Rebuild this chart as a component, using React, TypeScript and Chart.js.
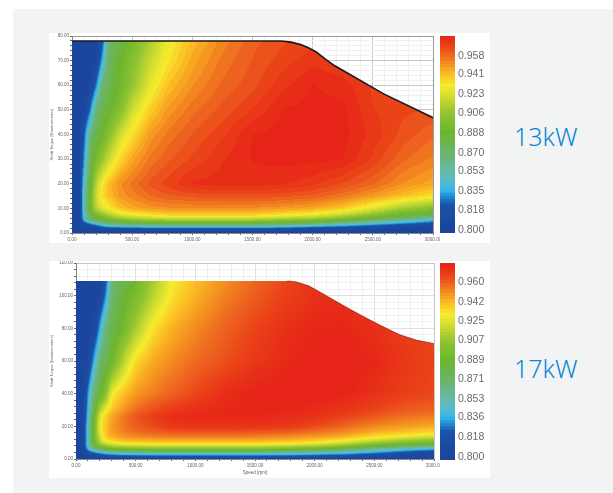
import React, { useEffect, useRef } from "react";
import { Chart, registerables } from "chart.js";
Chart.register(...registerables);

const speedNodes = [0, 60, 100, 150, 200, 250, 300, 400, 500, 650, 800, 1000, 1250, 1500, 1750, 2000, 2250, 2500, 2750, 3000];

const torque13 = [0, 1.5, 2.5, 3.5, 5, 7, 10, 15, 20, 30, 40, 50, 60, 70, 80];
const grid13 = [
  [.80,.80,.80,.80,.80,.80,.80,.80,.80,.80,.80,.80,.80,.80,.80,.80,.80,.80,.80,.80],
  [.80,.80,.80,.80,.80,.80,.80,.80,.80,.805,.805,.805,.805,.805,.805,.80,.80,.80,.80,.80],
  [.80,.80,.80,.80,.81,.825,.835,.84,.842,.845,.845,.845,.845,.845,.84,.83,.82,.81,.805,.80],
  [.80,.80,.805,.82,.835,.85,.86,.865,.87,.872,.875,.875,.875,.875,.87,.862,.85,.835,.82,.81],
  [.80,.80,.84,.865,.875,.88,.885,.895,.90,.905,.905,.905,.905,.905,.90,.895,.885,.87,.855,.835],
  [.80,.80,.845,.875,.89,.90,.91,.92,.925,.93,.935,.935,.935,.935,.93,.925,.915,.90,.885,.875],
  [.80,.80,.85,.89,.915,.925,.93,.94,.945,.948,.95,.95,.95,.95,.948,.945,.938,.925,.91,.90],
  [.80,.80,.85,.89,.92,.933,.94,.948,.952,.957,.96,.962,.963,.963,.962,.96,.955,.948,.94,.933],
  [.80,.80,.845,.885,.915,.93,.94,.95,.955,.962,.966,.972,.973,.973,.972,.969,.964,.958,.95,.945],
  [.80,.80,.83,.875,.895,.905,.918,.935,.945,.955,.96,.965,.971,.975,.976,.976,.975,.967,.958,.953],
  [.80,.80,.82,.865,.878,.888,.90,.92,.933,.948,.955,.961,.967,.975,.976,.976,.976,.97,.963,.958],
  [.80,.80,.80,.825,.868,.878,.885,.90,.92,.937,.948,.956,.962,.968,.975,.976,.976,.968,.965,.964],
  [.80,.80,.80,.80,.825,.868,.875,.89,.905,.926,.94,.95,.958,.963,.97,.975,.973,.967,.965,.964],
  [.80,.80,.80,.80,.80,.833,.872,.888,.90,.918,.932,.945,.955,.961,.966,.97,.968,.966,.965,.964],
  [.80,.80,.80,.80,.80,.81,.868,.88,.892,.91,.927,.94,.951,.959,.963,.966,.967,.967,.966,.965],
];
const envelopeSpeed13 = [0, 1736, 1820, 1900, 1960, 2030, 2100, 2180, 2256, 2590, 3000];
const envelopeTorque13 = [78, 78, 77.5, 76.5, 75.3, 73.5, 70.8, 68, 65.9, 56.5, 46.8];

const torque17 = [0, 1.5, 2.5, 4, 5.5, 7, 9, 12, 15, 20, 27, 29, 40, 60, 80, 100, 110];
const grid17 = [
  [.80,.80,.80,.80,.80,.80,.80,.80,.80,.80,.80,.80,.80,.80,.80,.80,.80,.80,.80,.80],
  [.80,.80,.80,.80,.80,.80,.80,.80,.80,.805,.805,.805,.805,.805,.805,.80,.80,.80,.80,.80],
  [.80,.80,.80,.80,.81,.822,.832,.836,.838,.838,.838,.838,.838,.838,.838,.835,.83,.82,.81,.803],
  [.80,.80,.81,.825,.84,.85,.855,.86,.862,.865,.865,.865,.865,.865,.86,.855,.845,.83,.815,.805],
  [.80,.80,.835,.855,.87,.875,.88,.885,.888,.89,.89,.89,.89,.89,.885,.875,.865,.85,.835,.825],
  [.80,.80,.85,.875,.885,.89,.90,.905,.907,.91,.91,.91,.91,.91,.905,.90,.89,.875,.86,.85],
  [.80,.80,.85,.885,.91,.92,.925,.93,.93,.932,.932,.932,.932,.932,.93,.925,.915,.90,.89,.885],
  [.80,.80,.85,.89,.92,.935,.94,.945,.946,.947,.948,.948,.948,.948,.946,.942,.935,.925,.915,.908],
  [.80,.80,.85,.89,.925,.94,.946,.952,.955,.957,.958,.958,.958,.957,.955,.952,.948,.94,.935,.93],
  [.80,.80,.85,.89,.93,.94,.948,.955,.96,.965,.97,.972,.972,.971,.97,.965,.958,.952,.948,.945],
  [.80,.80,.84,.885,.925,.937,.945,.955,.962,.968,.973,.975,.975,.975,.974,.972,.968,.962,.957,.955],
  [.80,.80,.838,.88,.918,.93,.94,.95,.958,.964,.97,.973,.975,.975,.975,.973,.97,.965,.96,.958],
  [.80,.80,.83,.87,.885,.90,.93,.94,.948,.954,.959,.965,.973,.976,.977,.977,.976,.972,.968,.965],
  [.80,.80,.80,.835,.868,.878,.888,.915,.935,.945,.951,.957,.963,.97,.974,.976,.977,.975,.97,.966],
  [.80,.80,.80,.80,.835,.868,.878,.892,.91,.933,.943,.951,.959,.966,.972,.975,.975,.972,.968,.965],
  [.80,.80,.80,.80,.80,.83,.87,.885,.895,.915,.932,.943,.953,.96,.967,.972,.973,.97,.967,.965],
  [.80,.80,.80,.80,.80,.815,.868,.878,.888,.91,.93,.94,.95,.958,.965,.97,.971,.97,.967,.965],
];
const envelopeSpeed17 = [0, 1772, 1850, 1950, 2050, 2156, 2300, 2440, 2600, 2714, 2850, 3000];
const envelopeTorque17 = [109, 109, 108.3, 106, 102, 97.5, 91.5, 86, 80, 76, 72.8, 70.6];

const speedTicks = [0, 500, 1000, 1500, 2000, 2500, 3000];
const legendTicks13 = [0.8, 0.818, 0.835, 0.853, 0.87, 0.888, 0.906, 0.923, 0.941, 0.958];
const legendTicks17 = [0.8, 0.818, 0.836, 0.853, 0.871, 0.889, 0.907, 0.925, 0.942, 0.96];

const colorValues = [.797, .822, .830, .835, .845, .855, .87, .888, .905, .92, .93, .94, .95, .958, .966, .976];
const colorHex = ["#1a459b", "#1b52a8", "#1f8fd8", "#35b5e8", "#5cbcc8", "#66b8a0", "#6cb468", "#6cb52e", "#90c432", "#d0dc30", "#f5ec2e", "#fbc024", "#f49020", "#ee6620", "#ea4318", "#e62418"];

const rgbStops = colorHex.map((h) => [1, 3, 5].map((i) => parseInt(h.slice(i, i + 2), 16)));
function colorOf(v: number) {
  const n = colorValues.length;
  if (v <= colorValues[0]) return `rgb(${rgbStops[0].join(",")})`;
  if (v >= colorValues[n - 1]) return `rgb(${rgbStops[n - 1].join(",")})`;
  let i = 0;
  while (v > colorValues[i + 1]) i++;
  const f = (v - colorValues[i]) / (colorValues[i + 1] - colorValues[i]);
  const c = rgbStops[i].map((a, k) => Math.round(a + (rgbStops[i + 1][k] - a) * f));
  return `rgb(${c.join(",")})`;
}
function locate(nodes: number[], v: number): [number, number] {
  let i = 0;
  while (i < nodes.length - 2 && v > nodes[i + 1]) i++;
  const f = Math.max(0, Math.min(1, (v - nodes[i]) / (nodes[i + 1] - nodes[i])));
  return [i, f];
}
function boxPass(src: Float32Array, w: number, h: number, r: number, horizontal: boolean) {
  const out = new Float32Array(src.length);
  for (let a = 0; a < (horizontal ? h : w); a++) {
    const len = horizontal ? w : h;
    for (let b = 0; b < len; b++) {
      let sum = 0;
      for (let k = -r; k <= r; k++) {
        const p = Math.max(0, Math.min(len - 1, b + k));
        sum += horizontal ? src[a * w + p] : src[p * w + a];
      }
      out[horizontal ? a * w + b : b * w + a] = sum / (2 * r + 1);
    }
  }
  return out;
}

const tickFont = { family: "'Liberation Sans'", size: 4.5 };

function makeMap(canvas: HTMLCanvasElement, o: any) {
  const heat = {
    id: "heat",
    beforeDatasetsDraw(chart: any) {
      const { ctx, scales: { x, y }, chartArea: a } = chart;
      const x0 = Math.floor(a.left), y0 = Math.floor(a.top);
      const w = Math.ceil(a.right) - x0, h = Math.ceil(a.bottom) - y0;
      let vals = new Float32Array(w * h);
      for (let j = 0; j < h; j++) {
        const [iy, fy] = locate(o.torque, y.getValueForPixel(y0 + j + 0.5));
        for (let i = 0; i < w; i++) {
          const [ix, fx] = locate(speedNodes, x.getValueForPixel(x0 + i + 0.5));
          const g = o.grid;
          const lo = g[iy][ix] * (1 - fx) + g[iy][ix + 1] * fx;
          const hi = g[iy + 1][ix] * (1 - fx) + g[iy + 1][ix + 1] * fx;
          vals[j * w + i] = lo * (1 - fy) + hi * fy;
        }
      }
      vals = boxPass(boxPass(vals, w, h, o.smooth, true), w, h, o.smooth, false);
      ctx.save();
      ctx.beginPath();
      ctx.moveTo(x.getPixelForValue(0), y.getPixelForValue(0));
      o.envSpeed.forEach((s: number, i: number) => ctx.lineTo(x.getPixelForValue(s), y.getPixelForValue(o.envTorque[i])));
      ctx.lineTo(x.getPixelForValue(3000), y.getPixelForValue(0));
      ctx.closePath();
      ctx.clip();
      for (let j = 0; j < h; j++) {
        for (let i = 0; i < w; i++) {
          let v = vals[j * w + i];
          if (o.band) v = Math.round(v / o.band) * o.band;
          ctx.fillStyle = colorOf(v);
          ctx.fillRect(x0 + i, y0 + j, 1, 1);
        }
      }
      ctx.restore();
    },
  };
  return new Chart(canvas, {
    type: "scatter",
    data: {
      datasets: [{
        data: o.envSpeed.map((s: number, i: number) => ({ x: s, y: o.envTorque[i] })).filter((p: any) => p.x >= o.lineFrom),
        showLine: true,
        borderColor: o.lineColor,
        borderWidth: o.lineWidth,
        pointRadius: 0,
        tension: 0,
      }],
    },
    options: {
      animation: false,
      responsive: false,
      layout: { padding: { top: o.top, right: o.right, left: 0, bottom: 0 } },
      plugins: { legend: { display: false }, tooltip: { enabled: false } },
      scales: {
        x: {
          type: "linear", min: 0, max: 3000,
          afterFit: (s: any) => { s.height = o.bottom; s.paddingLeft = 0; s.paddingRight = 0; },
          title: { display: !!o.xTitle, text: o.xTitle, font: { ...tickFont }, color: "#666", padding: { top: 3, bottom: 3 } },
          grid: {
            color: (c: any) => c.tick && c.tick.value === 3000 ? o.gridEdge : speedTicks.includes(c.tick?.value) ? o.gridMajor : "#f0f0f0",
            tickLength: 2, tickColor: "#666",
          },
          border: { color: "#888" },
          ticks: {
            stepSize: 100, autoSkip: false, maxRotation: 0, font: tickFont, color: "#666", padding: 2.5,
            callback: (v: any) => speedTicks.includes(v) ? Number(v).toFixed(2) : "",
          },
        },
        y: {
          type: "linear", min: 0, max: o.yMax,
          afterFit: (s: any) => { s.width = o.left; s.paddingTop = 0; s.paddingBottom = 0; },
          title: { display: true, text: "Shaft Torque [Newtonmeters]", font: { ...tickFont, size: 4 }, color: "#666", padding: 0 },
          grid: {
            color: (c: any) => c.tick && c.tick.value === o.yMax ? o.gridEdge : c.tick && c.tick.value % o.yMajor === 0 ? o.gridMajor : "#f0f0f0",
            tickLength: 2, tickColor: "#666",
          },
          border: { color: "#888" },
          ticks: {
            stepSize: o.yMinor, autoSkip: false, font: tickFont, color: "#666", padding: 1,
            callback: (v: any) => Number(v) % o.yMajor === 0 ? Number(v).toFixed(2) : "",
          },
        },
      },
    },
    plugins: [heat],
  } as any);
}

function makeLegend(canvas: HTMLCanvasElement, o: any) {
  const datasets: any[] = [];
  for (let v = o.min; v < o.max; v += 0.003) {
    datasets.push({ data: [[v, Math.min(v + 0.0034, o.max)]], backgroundColor: colorOf(v + 0.0015), barPercentage: 1, categoryPercentage: 1, grouped: false });
  }
  return new Chart(canvas, {
    type: "bar",
    data: { labels: ["eff"], datasets },
    options: {
      animation: false,
      responsive: false,
      layout: { padding: { top: o.top, right: 0, left: 0, bottom: o.bottom } },
      plugins: { legend: { display: false }, tooltip: { enabled: false } },
      scales: {
        x: { display: false, grid: { display: false } },
        y: {
          position: "right", min: o.min, max: o.max,
          afterFit: (s: any) => { s.width = 35; s.paddingTop = 0; s.paddingBottom = 0; },
          afterBuildTicks: (s: any) => { s.ticks = o.ticks.map((value: number) => ({ value })); },
          grid: { display: false, drawTicks: false },
          border: { display: false },
          ticks: {
            autoSkip: false, padding: 3, color: "#6a6a6a",
            font: { family: "'Liberation Sans'", size: 10.5 },
            callback: (v: any) => Number(v).toFixed(3),
          },
        },
      },
    },
  } as any);
}

const box = (l: number, t: number, w: number, h: number, bg: string): React.CSSProperties => ({ position: "absolute", left: l, top: t, width: w, height: h, background: bg });
const canvasPos = (l: number, t: number): React.CSSProperties => ({ position: "absolute", left: l, top: t, display: "block" });
const labelStyle = (t: number): React.CSSProperties => ({ position: "absolute", left: 514, top: t, fontFamily: "'Noto Sans'", fontWeight: 300, fontSize: 25, lineHeight: "30px", color: "#0a86d8" });

export default function App() {
  const map13 = useRef<HTMLCanvasElement>(null);
  const map17 = useRef<HTMLCanvasElement>(null);
  const leg13 = useRef<HTMLCanvasElement>(null);
  const leg17 = useRef<HTMLCanvasElement>(null);
  useEffect(() => {
    const charts = [
      makeMap(map13.current!, { torque: torque13, grid: grid13, envSpeed: envelopeSpeed13, envTorque: envelopeTorque13, band: 0.0035, smooth: 2, lineFrom: 0, lineColor: "#1a1a1a", lineWidth: 1.6, yMax: 80, yMajor: 10, yMinor: 2, top: 3, right: 7, left: 23, bottom: 10, gridMajor: "#c8c8c8", gridEdge: "#999" }),
      makeMap(map17.current!, { torque: torque17, grid: grid17, envSpeed: envelopeSpeed17, envTorque: envelopeTorque17, band: 0, smooth: 3, lineFrom: 1772, lineColor: "rgba(130,35,25,0.7)", lineWidth: 1, yMax: 120, yMajor: 20, yMinor: 4, top: 2, right: 6, left: 27, bottom: 19, xTitle: "Speed [rpm]", gridMajor: "#e0e0e0", gridEdge: "#c4c4c4" }),
      makeLegend(leg13.current!, { min: 0.797, max: 0.976, ticks: legendTicks13, top: 3, bottom: 10 }),
      makeLegend(leg17.current!, { min: 0.797, max: 0.978, ticks: legendTicks17, top: 2, bottom: 18 }),
    ];
    return () => charts.forEach((c) => c.destroy());
  }, []);
  return (
    <div style={{ position: "fixed", left: 0, top: 0, width: 613, height: 493, background: "#fff", overflow: "hidden", filter: "blur(0.6px)" }}>
      <div style={box(13, 9, 600, 484, "#f2f4f3")} />
      <div style={box(49, 33, 441, 210, "#fff")} />
      <div style={box(49, 261, 441, 217, "#fff")} />
      <canvas ref={map13} width={391} height={210} style={canvasPos(49, 33)} />
      <canvas ref={map17} width={391} height={217} style={canvasPos(49, 261)} />
      <canvas ref={leg13} width={50} height={210} style={canvasPos(440, 33)} />
      <canvas ref={leg17} width={50} height={217} style={canvasPos(440, 261)} />
      <div style={labelStyle(121)}>13kW</div>
      <div style={labelStyle(353)}>17kW</div>
    </div>
  );
}
